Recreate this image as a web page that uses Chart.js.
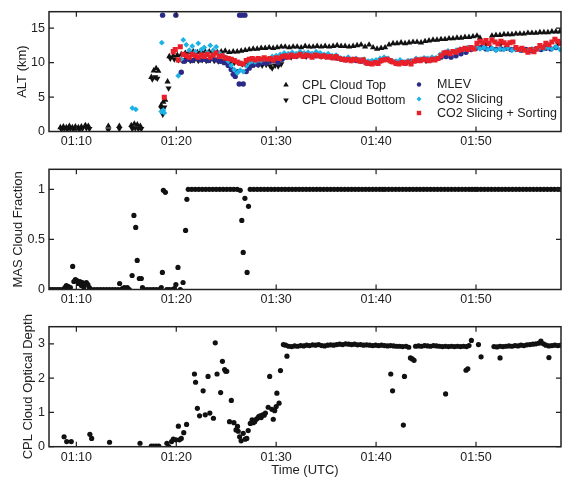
<!DOCTYPE html>
<html>
<head>
<meta charset="utf-8">
<script src="https://cdn.jsdelivr.net/npm/chart.js@4.4.0/dist/chart.umd.min.js"></script>
<style>
  body { margin: 0; background: #fff; }
  canvas { position: absolute; left: 0; }
</style>
</head>
<body>
<canvas id="alt" width="565" height="160" style="top:0px"></canvas>
<canvas id="frac" width="565" height="150" style="top:160px"></canvas>
<canvas id="cod" width="565" height="168" style="top:310px"></canvas>
<script>
// time is minutes after 01:00 UTC
const timeTicks = [10, 20, 30, 40, 50];
const timeMin = 7.26, timeMax = 58.51;
const altTicks = [0, 5, 10, 15];
const fracTicks = [0, 0.5, 1];
const codTicks = [0, 1, 2, 3];

const cplTop = [
  [8.4,0.6],[8.7,0.7],[9.0,0.6],[9.3,0.8],[9.6,0.6],[9.9,0.7],[10.2,0.6],[10.5,0.7],[10.9,0.9],[11.2,0.8],
  [13.2,0.8],[14.3,0.8],[15.5,0.9],[15.8,1.1],[16.1,1.0],[16.4,0.8],
  [17.5,7.9],[17.74,8.84],[17.98,9.19],[18.2,8.8],[18.48,3.8],[18.7,4.3],[18.9,4.6],[19.13,7.24],
  [19.3,10.9],[19.7,11.0],[20.1,11.1],[20.5,11.2],[20.9,11.4],[21.3,11.5],[21.7,11.6],[22.1,11.5],[22.5,11.7],
  [22.9,11.6],[23.3,11.6],[23.7,11.7],[24.1,11.5],[24.5,11.6],[24.9,11.7],[25.3,11.5],[25.7,11.6],[26.1,11.6],
  [26.5,11.7],[26.9,11.8],[27.3,11.9],[27.7,12.0],[28.1,12.0],[28.5,12.1],[28.9,12.1],[29.3,12.2],[29.7,12.1],
  [30.1,12.2],[30.5,12.3],[30.9,12.3],[31.3,12.2],[31.7,12.3],[32.1,12.3],[32.5,12.2],[32.9,12.4],[33.3,12.3],
  [33.7,12.3],[34.1,12.4],[34.5,12.3],[34.9,12.4],[35.3,12.3],[35.7,12.4],[36.1,12.5],[36.5,12.4],[36.9,12.4],
  [37.3,12.3],[37.7,12.4],[38.1,12.5],[38.5,12.6],[38.9,12.3],[39.3,12.6],[39.7,12.2],[40.1,12.0],[40.5,12.1],
  [40.9,12.2],[41.3,12.6],[41.7,12.8],[42.1,12.8],[42.5,12.9],[42.9,12.8],[43.3,12.9],[43.7,13.0],[44.1,13.0],
  [44.5,12.9],[44.9,13.1],[45.3,13.2],[45.7,13.3],[46.1,13.3],[46.5,13.4],[46.9,13.4],[47.3,13.5],[47.7,13.5],
  [48.1,13.6],[48.5,13.6],[48.9,13.7],[49.3,13.7],[49.7,13.8],[50.1,13.9],[50.4,13.6],[51.6,13.9],[52.0,14.0],
  [52.4,14.0],[52.8,14.1],[53.2,14.1],[53.6,14.1],[54.0,14.2],[54.4,14.2],[54.8,14.2],[55.2,14.3],[55.6,14.3],
  [56.0,14.3],[56.4,14.4],[56.8,14.4],[57.2,14.4],[57.6,14.5],[58.0,14.5],[58.4,14.5]
];
const cplBottom = [
  [8.5,0.3],[8.8,0.4],[9.1,0.3],[9.4,0.4],[9.7,0.3],[10.0,0.4],[10.3,0.3],[10.6,0.4],[11.0,0.5],[11.3,0.4],
  [13.2,0.2],[14.3,0.4],[15.6,0.4],[15.9,0.5],[16.2,0.4],[16.5,0.4],
  [17.6,7.6],[17.9,7.9],[18.1,7.7],[18.55,3.3],[18.65,2.5],[18.8,3.5],[19.23,6.28],
  [19.4,10.6],[19.8,10.5],[20.2,10.4],[20.6,10.3],[21.0,10.4],[21.4,10.3],[21.8,10.4],[22.2,10.3],[22.6,10.4],
  [23.0,10.3],[23.4,10.4],[23.8,10.3],[24.2,10.2],[24.6,10.3],[25.0,10.1],[25.4,10.0],[25.8,10.0],[26.2,10.0],
  [26.6,9.8],[27.0,9.8],[27.4,9.8],[27.8,9.7],[28.2,9.7],[28.6,9.6],[29.0,9.7],[29.4,9.5],[29.6,9.2],[29.9,9.6],
  [30.2,9.5],[30.5,9.8],[31.5,10.8],[33.0,10.9],[34.5,10.9],[36.0,10.8],[37.5,10.4],[39.0,10.0],[40.5,10.3],
  [42.0,10.0],[43.5,10.1],[45.0,10.3],[46.5,11.0],[48.0,11.6],[49.5,12.0],[51.0,12.8],[52.5,12.8],[54.0,12.0],
  [55.5,11.8],[57.0,12.4],[58.2,12.8]
];
const mlev = [
  [18.63,16.9],[19.96,16.9],[20.5,8.6],[20.8,10.2],[21.2,10.5],[21.6,10.3],[22.0,10.6],[22.4,10.4],[22.8,10.5],
  [23.2,10.3],[23.6,10.6],[24.0,10.4],[24.4,10.2],[24.8,10.0],[25.2,9.6],[25.5,9.0],[25.7,8.3],[25.9,8.0],
  [26.1,8.7],[26.3,6.9],[26.34,16.9],[26.59,16.9],[26.7,6.9],[26.87,16.9],[27.0,8.7],[27.3,9.2],[27.6,9.6],
  [27.9,9.8],[28.2,9.7],[28.6,10.0],[29.0,9.9],[29.4,10.2],[29.8,10.3],[30.2,10.0],[30.6,10.5],[31.0,10.8],
  [31.5,11.0],[32.0,10.9],[32.5,11.1],[33.0,11.0],[33.5,11.2],[34.0,11.0],[34.5,11.1],[35.0,10.9],[35.5,10.8],
  [36.0,10.7],[36.5,10.5],[37.0,10.4],[37.5,10.4],[38.0,10.3],[38.5,10.2],[39.0,10.0],[39.5,10.1],[40.0,10.2],
  [40.5,10.4],[41.0,10.5],[41.5,10.2],[42.0,10.0],[42.5,10.1],[43.0,10.0],[43.5,10.2],[44.0,10.3],[44.5,10.4],
  [45.0,10.5],[45.5,10.4],[46.0,10.6],[46.5,10.8],[47.0,10.9],[47.5,10.8],[48.0,11.0],[48.5,11.3],[49.0,11.5],
  [49.5,11.9],[50.0,12.1],[50.5,12.2],[51.0,12.0],[51.5,12.1],[52.0,11.9],[52.5,12.0],[53.0,12.1],[53.5,11.9],
  [54.0,12.0],[54.5,11.8],[55.0,11.9],[55.5,11.8],[56.0,12.0],[56.5,11.9],[57.0,12.1],[57.5,12.0],[58.0,12.2]
];
const co2Slicing = [
  [15.6,3.4],[15.95,3.2],[18.5,2.9],[18.55,12.9],[18.7,3.1],[18.8,2.7],[20.2,8.1],[20.5,10.5],[20.7,13.3],
  [21.0,12.6],[21.3,11.8],[21.6,12.4],[21.9,11.6],[22.2,12.8],[22.5,11.9],[22.8,12.2],[23.1,11.5],[23.4,12.5],
  [23.7,11.8],[24.0,12.3],[24.3,11.4],[24.6,11.0],[24.9,10.8],[25.2,10.2],[25.5,9.6],[25.8,9.0],[26.1,8.5],
  [26.4,8.9],[26.7,8.7],[27.0,9.5],[27.3,10.0],[27.6,10.2],[27.9,10.1],[28.2,10.4],[28.5,10.3],[28.8,10.6],
  [29.2,10.5],[29.6,10.9],[30.0,11.0],[30.4,11.2],[30.8,11.4],[31.2,11.3],[31.6,11.5],[32.0,11.3],[32.4,11.6],
  [32.8,11.4],[33.2,11.5],[33.6,11.3],[34.0,11.6],[34.4,11.4],[34.8,11.2],[35.2,11.3],[35.6,11.0],[36.0,11.1],
  [36.4,10.7],[36.8,10.6],[37.2,10.8],[37.6,10.5],[38.0,10.6],[38.4,10.4],[38.8,10.5],[39.2,10.2],[39.6,10.3],
  [40.0,10.4],[40.4,10.6],[40.8,10.8],[41.2,10.6],[41.6,10.3],[42.0,10.2],[42.4,10.4],[42.8,10.1],[43.2,10.3],
  [43.6,10.2],[44.0,10.6],[44.4,10.5],[44.8,10.7],[45.2,10.6],[45.6,10.8],[46.0,10.7],[46.4,11.2],[46.8,11.5],
  [47.2,11.7],[47.6,11.6],[48.0,11.8],[48.4,12.0],[48.8,11.9],[49.2,12.2],[49.6,12.1],[50.0,12.3],[50.4,12.0],
  [50.8,12.2],[51.2,11.9],[51.6,12.1],[52.0,11.8],[52.4,12.0],[52.8,11.9],[53.2,12.2],[53.6,11.8],[54.0,12.0],
  [54.4,11.8],[54.8,11.9],[55.2,11.7],[55.6,12.0],[56.0,11.9],[56.4,12.1],[56.8,12.0],[57.2,12.2],[57.6,12.0],
  [58.0,12.3],[58.4,11.9]
];
const co2Sorting = [
  [18.8,4.97],[19.7,11.6],[19.9,11.9],[20.2,10.4],[20.4,12.3],[20.7,11.2],[21.0,11.0],[21.3,10.8],[21.6,11.2],
  [21.9,11.0],[22.2,10.8],[22.5,11.1],[22.8,10.9],[23.1,11.2],[23.4,10.8],[23.7,11.1],[24.0,11.4],[24.3,10.9],
  [24.6,11.0],[24.9,10.7],[25.2,10.6],[25.5,10.5],[25.8,10.3],[26.1,10.1],[26.4,9.9],[26.7,9.8],[27.0,10.3],
  [27.3,10.5],[27.6,10.6],[27.9,10.4],[28.2,10.6],[28.5,10.5],[28.8,10.7],[29.1,10.5],[29.4,10.6],[29.7,10.4],
  [30.0,10.7],[30.3,10.6],[30.6,10.9],[30.9,11.0],[31.2,10.8],[31.5,11.1],[31.8,10.9],[32.1,11.0],[32.4,11.2],
  [32.7,10.9],[33.0,11.1],[33.3,11.0],[33.6,10.8],[33.9,11.1],[34.2,11.0],[34.5,10.9],[34.8,11.0],[35.1,10.8],
  [35.4,10.9],[35.7,10.7],[36.0,10.9],[36.3,10.6],[36.6,10.5],[36.9,10.4],[37.2,10.5],[37.5,10.3],[37.8,10.5],
  [38.1,10.4],[38.4,10.2],[38.7,10.4],[39.0,10.0],[39.3,9.9],[39.6,9.8],[39.9,10.0],[40.2,9.9],[40.5,10.3],
  [40.8,10.4],[41.1,10.5],[41.4,10.3],[41.7,10.1],[42.0,9.9],[42.3,9.8],[42.6,10.0],[42.9,9.9],[43.2,10.1],
  [43.5,9.8],[43.8,10.2],[44.1,10.4],[44.4,10.3],[44.7,10.5],[45.0,10.4],[45.3,10.3],[45.6,10.5],[45.9,10.4],
  [46.2,10.6],[46.5,11.0],[46.8,11.4],[47.1,11.5],[47.4,11.3],[47.7,11.6],[48.0,11.5],[48.3,11.8],[48.6,11.9],
  [48.9,12.1],[49.2,11.9],[49.5,12.2],[49.8,12.0],[50.1,12.8],[50.4,13.1],[50.7,12.9],[51.0,13.2],[51.3,12.8],
  [51.6,13.3],[51.9,13.0],[52.2,12.7],[52.5,13.1],[52.8,12.9],[53.1,12.6],[53.4,12.9],[53.7,13.0],[54.0,12.2],
  [54.3,11.9],[54.6,12.1],[54.9,11.8],[55.2,11.5],[55.5,11.9],[55.8,11.6],[56.1,12.0],[56.4,12.5],[56.7,12.2],
  [57.0,12.8],[57.3,12.6],[57.6,13.0],[57.9,13.4],[58.2,13.1],[58.5,12.8]
];
const masFraction = [
  [7.35,0],[7.6,0],[7.85,0],[8.1,0],[8.35,0],[8.6,0],[8.85,0.02],[9.0,0.04],[9.2,0.03],[9.4,0.02],[9.63,0.23],
  [9.75,0.08],[9.9,0.1],[10.05,0.09],[10.2,0.06],[10.35,0.08],[10.5,0.04],[10.6,0.07],[10.75,0.02],[10.85,0.06],
  [11.0,0.07],[11.15,0.05],[11.3,0.02],[11.5,0],[11.8,0],[12.1,0],[12.4,0],[12.7,0],[13.0,0],[13.3,0],[13.6,0],
  [13.9,0],[14.2,0],[14.33,0.06],[14.6,0.01],[14.8,0.02],[15.1,0.02],[15.3,0],[15.58,0.14],[15.76,0.74],
  [15.94,0.62],[16.09,0.29],[16.3,0.11],[16.5,0.11],[16.62,0.02],[16.8,0],[17.1,0],[17.4,0],[17.7,0],[18.0,0],
  [18.3,0],[18.5,0.02],[18.61,0.17],[18.71,0.99],[18.91,0.97],[19.05,0],[19.3,0],[19.6,0],[19.8,0.01],
  [19.96,0.05],[20.17,0.22],[20.4,0],[20.68,0.07],[20.93,0.59],[21.06,0.9],
  [21.2,1],[21.55,1],[21.9,1],[22.25,1],[22.6,1],[22.95,1],[23.3,1],[23.65,1],[24.0,1],[24.35,1],[24.7,1],
  [25.05,1],[25.4,1],[25.75,1],[26.1,1],[26.4,0.99],
  [26.56,0.69],[26.70,0.37],[26.87,0.91],[27.09,0.17],[27.23,0.83],
  [27.4,1],[27.75,1],[28.1,1],[28.45,1],[28.8,1],[29.15,1],[29.5,1],[29.85,1],[30.2,1],[30.55,1],[30.9,1],
  [31.25,1],[31.6,1],[31.95,1],[32.3,1],[32.65,1],[33.0,1],[33.35,1],[33.7,1],[34.05,1],[34.4,1],[34.75,1],
  [35.1,1],[35.45,1],[35.8,1],[36.15,1],[36.5,1],[36.85,1],[37.2,1],[37.55,1],[37.9,1],[38.25,1],[38.6,1],
  [38.95,1],[39.3,1],[39.65,1],[40.0,1],[40.35,1],[40.65,1],
  [40.9,1],[41.25,1],[41.6,1],[41.95,1],[42.3,1],[42.65,1],[43.0,1],[43.35,1],[43.7,1],[44.05,1],[44.4,1],
  [44.75,1],[45.1,1],[45.45,1],[45.8,1],[46.15,1],[46.5,1],[46.85,1],[47.2,1],[47.55,1],[47.9,1],[48.25,1],
  [48.6,1],[48.95,1],[49.3,1],[49.6,1],[49.9,1],
  [50.15,1],[50.5,1],[50.85,1],[51.2,1],[51.55,1],[51.9,1],[52.25,1],[52.6,1],[52.95,1],[53.3,1],[53.65,1],
  [54.0,1],[54.35,1],[54.7,1],[55.05,1],[55.4,1],[55.75,1],[56.1,1],[56.45,1],[56.8,1],[57.15,1],[57.5,1],
  [57.85,1],[58.2,1],[58.5,1]
];
const cplOD = [
  [8.77,0.29],[9.03,0.15],[9.49,0.15],[11.35,0.36],[11.53,0.24],[13.32,0.13],[16.37,0.1],[17.5,0.02],
  [17.75,0.02],[18.0,0.02],[18.25,0.02],[19.06,0.1],[19.24,0.0],[19.53,0.15],[19.7,0.22],[19.96,0.2],
  [20.21,0.6],[20.32,0.2],[20.5,0.24],[20.75,0.41],[21.03,0.65],[21.82,2.12],[21.93,1.88],[22.11,1.12],
  [22.33,0.9],[22.69,1.63],[22.9,0.93],[23.18,2.05],[23.36,0.98],[23.72,0.83],[23.9,3.03],[24.08,2.12],
  [24.44,1.58],[24.62,2.49],[24.84,2.25],[24.95,2.2],[25.05,2.2],[25.33,0.73],[25.51,1.35],[25.77,0.7],
  [25.98,0.49],[26.13,0.59],[26.2,0.45],[26.34,0.29],[26.49,0.17],[26.7,0.39],[26.9,0.22],[27.06,0.24],
  [27.2,0.47],[27.41,0.68],[27.59,0.78],[27.7,0.7],[27.85,0.73],[28.0,0.8],[28.13,0.83],[28.25,0.88],
  [28.39,0.9],[28.5,0.85],[28.64,0.93],[28.8,0.92],[28.92,0.98],[29.2,1.15],[29.35,2.05],[29.57,1.09],
  [29.71,0.8],[29.85,1.05],[30.0,1.17],[30.07,1.56],[30.29,1.27],[30.43,2.22],[30.72,2.98],[31.08,2.64],
  [30.95,2.96],[31.25,2.93],[31.55,2.92],[31.85,2.94],[32.15,2.93],[32.45,2.95],[32.75,2.94],[33.05,2.96],
  [33.35,2.95],[33.65,2.97],[33.95,2.96],[34.25,2.98],[34.55,2.95],[34.85,2.94],[35.15,2.96],[35.45,2.97],
  [35.75,2.96],[36.05,2.98],[36.35,2.99],[36.65,2.98],[36.95,3.0],[37.25,2.99],[37.55,2.98],[37.85,2.99],
  [38.15,2.97],[38.45,2.98],[38.75,2.96],[39.05,2.97],[39.35,2.96],[39.65,2.95],[39.95,2.96],[40.25,2.95],
  [40.55,2.96],[40.85,2.95],[41.15,2.94],[41.45,2.95],[41.75,2.94],[42.05,2.93],[42.35,2.93],[42.65,2.92],
  [43.0,2.93],[43.27,2.9],
  [41.47,2.12],[41.65,1.63],[42.73,0.63],[42.84,2.05],[43.44,2.59],[43.62,2.56],[43.8,2.52],
  [43.95,2.93],[44.25,2.94],[44.55,2.93],[44.85,2.95],[45.15,2.94],[45.45,2.93],[45.75,2.95],[46.05,2.94],
  [46.35,2.93],[46.65,2.92],[46.95,2.93],[47.25,2.92],[47.55,2.93],[47.85,2.92],[48.15,2.93],[48.45,2.92],
  [48.75,2.93],[49.05,2.92],[49.3,2.95],
  [46.96,1.54],[49.0,2.23],[49.18,2.27],[49.54,3.1],[50.25,2.98],[50.51,2.62],
  [51.8,2.92],[52.1,2.91],[52.4,2.93],[52.7,2.92],[53.0,2.93],[53.3,2.94],[53.6,2.93],[53.9,2.95],[54.2,2.94],
  [54.5,2.96],[54.8,2.95],[55.1,2.97],[55.4,2.98],[55.7,2.99],[56.0,3.0],[56.3,3.02],[56.5,3.08],[56.75,3.0],
  [57.0,2.96],[57.3,2.94],[57.6,2.95],[57.9,2.96],[58.2,2.95],[58.5,2.96],
  [52.41,2.59],[57.3,2.6]
];

Chart.defaults.font.family = '"Liberation Sans", Arial, sans-serif';
Chart.defaults.color = '#222';

const toXY = a => a.map(p => ({ x: p[0], y: p[1] }));
const tickFont = { size: 12.5 };
const titleFont = { size: 13 };

// matlab style box with inward ticks on all four sides
const frame = {
  id: 'frame',
  afterDraw(chart) {
    const { ctx, chartArea: a, scales: { x, y } } = chart;
    ctx.save();
    ctx.strokeStyle = '#222';
    ctx.lineWidth = 1.5;
    ctx.strokeRect(a.left, a.top, a.right - a.left, a.bottom - a.top);
    ctx.lineWidth = 1.2;
    ctx.beginPath();
    x.ticks.forEach(t => {
      const px = x.getPixelForValue(t.value);
      ctx.moveTo(px, a.bottom); ctx.lineTo(px, a.bottom - 5);
      ctx.moveTo(px, a.top); ctx.lineTo(px, a.top + 5);
    });
    y.ticks.forEach(t => {
      const py = y.getPixelForValue(t.value);
      ctx.moveTo(a.left, py); ctx.lineTo(a.left + 5, py);
      ctx.moveTo(a.right, py); ctx.lineTo(a.right - 5, py);
    });
    ctx.stroke();
    ctx.restore();
  }
};

function marker(ctx, style, x, y, r) {
  ctx.beginPath();
  if (style === 'up') {
    ctx.moveTo(x, y - r); ctx.lineTo(x + r * 0.87, y + r / 2); ctx.lineTo(x - r * 0.87, y + r / 2);
  } else if (style === 'down') {
    ctx.moveTo(x, y + r); ctx.lineTo(x + r * 0.87, y - r / 2); ctx.lineTo(x - r * 0.87, y - r / 2);
  } else if (style === 'diamond') {
    ctx.moveTo(x, y - r); ctx.lineTo(x + r, y); ctx.lineTo(x, y + r); ctx.lineTo(x - r, y);
  } else if (style === 'square') {
    ctx.rect(x - r, y - r, 2 * r, 2 * r);
  } else {
    ctx.arc(x, y, r, 0, Math.PI * 2);
  }
  ctx.closePath();
  ctx.fill();
}

const altLegend = {
  id: 'altLegend',
  afterDraw(chart) {
    const ctx = chart.ctx;
    const items = [
      ['up', '#111', 'CPL Cloud Top', 286, 85, 302, 3.2],
      ['down', '#111', 'CPL Cloud Bottom', 286, 100, 302, 3.2],
      ['circle', '#2b2a88', 'MLEV', 419, 84.5, 437, 2.2],
      ['diamond', '#1db2e6', 'CO2 Slicing', 419, 99, 437, 2.5],
      ['square', '#e8202a', 'CO2 Slicing + Sorting', 419, 113, 437, 2.2]
    ];
    ctx.save();
    ctx.font = '12.5px "Liberation Sans", Arial, sans-serif';
    ctx.textBaseline = 'middle';
    items.forEach(it => {
      ctx.fillStyle = it[1];
      marker(ctx, it[0], it[3], it[4], it[6]);
      ctx.fillStyle = '#222';
      ctx.fillText(it[2], it[5], it[4] + 0.5);
    });
    ctx.restore();
  }
};

function makePanel(id, p) {
  return new Chart(document.getElementById(id), {
    type: 'scatter',
    data: { datasets: p.datasets },
    options: {
      responsive: false,
      animation: false,
      devicePixelRatio: 1,
      layout: { padding: { top: p.padTop, right: 1, left: 0, bottom: 0 } },
      plugins: { legend: { display: false }, tooltip: { enabled: false } },
      scales: {
        x: {
          type: 'linear', min: timeMin, max: timeMax,
          grid: { display: false, drawTicks: false },
          border: { display: false },
          afterBuildTicks: s => { s.ticks = timeTicks.map(v => ({ value: v })); },
          afterFit: s => { s.height = p.xHeight; s.paddingLeft = 0; s.paddingRight = 0; },
          ticks: { font: tickFont, padding: 3, maxRotation: 0, autoSkip: false, callback: v => '01:' + v },
          title: p.xTitle
            ? { display: true, text: p.xTitle, font: titleFont, padding: { top: 0, bottom: 0 } }
            : { display: false }
        },
        y: {
          min: p.yMin, max: p.yMax,
          grid: { display: false, drawTicks: false },
          border: { display: false },
          afterBuildTicks: s => { s.ticks = p.yTicks.map(v => ({ value: v })); },
          afterFit: s => { s.width = 49; s.paddingTop = 0; s.paddingBottom = 0; },
          ticks: { font: tickFont, padding: 4, callback: v => String(v) },
          title: { display: true, text: p.yTitle, font: titleFont, padding: { top: p.titleOff, bottom: 0 } }
        }
      }
    },
    plugins: [frame].concat(p.extra || [])
  });
}

makePanel('alt', {
  padTop: 11.7, xHeight: 28.5, yMin: 0, yMax: 17.4, yTicks: altTicks,
  yTitle: 'ALT (km)', titleOff: 14.2, extra: [altLegend],
  datasets: [
    { label: 'CO2 Slicing + Sorting', data: toXY(co2Sorting), pointStyle: 'rect', pointRadius: 3.6,
      backgroundColor: '#e8202a', borderWidth: 0 },
    { label: 'CO2 Slicing', data: toXY(co2Slicing), pointStyle: 'rectRot', pointRadius: 2.9,
      backgroundColor: '#1db2e6', borderWidth: 0 },
    { label: 'MLEV', data: toXY(mlev), pointStyle: 'circle', pointRadius: 2.7,
      backgroundColor: '#2b2a88', borderWidth: 0 },
    { label: 'CPL Cloud Bottom', data: toXY(cplBottom), pointStyle: 'triangle', rotation: 180, pointRadius: 3.6,
      backgroundColor: '#111', borderWidth: 0 },
    { label: 'CPL Cloud Top', data: toXY(cplTop), pointStyle: 'triangle', pointRadius: 3.6,
      backgroundColor: '#111', borderWidth: 0 }
  ]
});

makePanel('frac', {
  padTop: 9.3, xHeight: 20.5, yMin: 0, yMax: 1.2, yTicks: fracTicks,
  yTitle: 'MAS Cloud Fraction', titleOff: 10.2,
  datasets: [
    { label: 'MAS Cloud Fraction', data: toXY(masFraction), pointStyle: 'circle', pointRadius: 2.6,
      backgroundColor: '#111', borderWidth: 0 }
  ]
});

makePanel('cod', {
  padTop: 16.7, xHeight: 31.3, yMin: 0, yMax: 3.5, yTicks: codTicks,
  yTitle: 'CPL Cloud Optical Depth', titleOff: 20.2, xTitle: 'Time (UTC)',
  datasets: [
    { label: 'CPL Cloud Optical Depth', data: toXY(cplOD), pointStyle: 'circle', pointRadius: 2.6,
      backgroundColor: '#111', borderWidth: 0 }
  ]
});
</script>
</body>
</html>
